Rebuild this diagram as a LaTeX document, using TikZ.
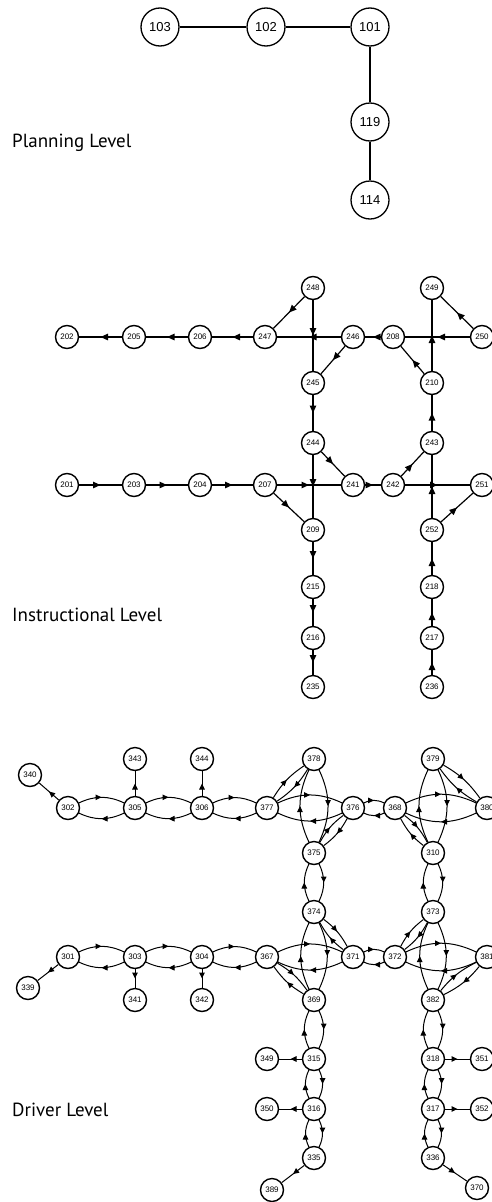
\documentclass[tikz,border=0pt]{standalone}
\usepackage{fontspec}
\setmainfont{Liberation Sans}
\newfontfamily\lvlfont{PT Sans}
\usetikzlibrary{arrows.meta,decorations.markings}
\newcommand\bidir[3]{\draw[darr] (#1) to[bend left=#3] (#2); \draw[darr] (#2) to[bend left=#3] (#1);}
\begin{document}
\begin{tikzpicture}[x=1pt,y=-1pt,
 pnode/.style={circle,draw,line width=1.3pt,minimum size=38pt,inner sep=0pt,font=\fontsize{13}{13}\selectfont},
 snode/.style={circle,draw,line width=1.4pt,minimum size=23pt,inner sep=0pt,font=\fontsize{8}{8}\selectfont,fill=white},
 pline/.style={line width=1.2pt},
 iarr/.style={line width=1.2pt,postaction={decorate},decoration={markings,mark=at position 0.5 with {\arrow{Triangle[length=7.5pt,width=6.5pt]}}}},
 darr/.style={line width=1pt,postaction={decorate},decoration={markings,mark=at position 0.5 with {\arrow{Triangle[length=6pt,width=5.5pt]}}}},
 lvl/.style={font=\lvlfont\fontsize{19}{19}\selectfont,anchor=west,inner sep=0pt}
]
\useasboundingbox (0,0) rectangle (492,1202);
% ---------------- Planning level
\node[pnode] (p103) at (160,27) {103};
\node[pnode] (p102) at (266,27) {102};
\node[pnode] (p101) at (370,27) {101};
\node[pnode] (p119) at (370,122) {119};
\node[pnode] (p114) at (370,200) {114};
\draw[pline] (p103) -- (p102);
\draw[pline] (p102) -- (p101);
\draw[pline] (p101) -- (p119);
\draw[pline] (p119) -- (p114);
\node[lvl] (lp) at (12,143) {Planning Level};
% ---------------- Instructional level
\foreach \n/\x/\y in {202/67/337,205/134/337,206/200/337,247/265/337,246/353/337,208/393/337,250/482/337,
  248/313/288,249/432/288,245/313/383,210/432/383,244/313/443,243/432/443,
  201/67/485,203/134/485,204/200/485,207/265/485,241/353/485,242/393/485,251/482/485,
  209/313/530,252/432/530,215/313/587,218/432/587,216/313/638,217/432/638,235/313/687,236/432/687}
  {\node[snode] (i\n) at (\x,\y) {\n};}
\foreach \a/\b in {247/206,206/205,205/202,201/203,203/204,204/207,
  246/247,248/245,248/247,246/245,245/244,244/241,207/241,207/209,244/209,209/215,215/216,216/235,
  208/246,241/242,250/208,210/249,250/249,210/208,243/210,242/243,242/251,252/243,252/251,218/252,217/218,236/217}
  {\draw[iarr] (i\a) -- (i\b);}
\node[lvl] (li) at (12,615) {Instructional Level};
% ---------------- Driver level
\foreach \n/\x/\y in {340/30/775,302/68/808,305/135/808,306/202/808,343/135/759,344/202/759,
  377/267/808,378/314/759,376/353/808,375/314/853,368/395/808,379/433/759,380/487/808,310/433/853,
  374/314/912,373/433/912,
  301/68/957,303/135/957,304/202/957,339/28/988,341/135/1000,342/202/1000,
  367/267/957,371/353/957,372/395/957,381/487/957,369/314/1000,382/433/1000,
  315/314/1059,349/267/1059,316/314/1109,350/267/1109,335/314/1158,389/272/1190,
  318/433/1059,351/482/1059,317/433/1109,352/482/1109,336/433/1158,370/477/1188}
  {\node[snode] (d\n) at (\x,\y) {\n};}
\foreach \a/\b in {302/340,305/343,306/344,301/339,303/341,304/342,315/349,316/350,335/389,318/351,317/352,336/370}
  {\draw[darr] (d\a) -- (d\b);}
\foreach \a/\b in {302/305,305/306,306/377,301/303,303/304,304/367,
  377/376,378/375,376/368,368/380,379/310,375/374,310/373,
  367/371,374/369,371/372,372/381,373/382,
  369/315,315/316,316/335,382/318,318/317,317/336}
  {\bidir{d\a}{d\b}{25}}
\foreach \a/\b in {377/378,376/375,380/379,368/310,374/371,367/369,372/373,382/381}
  {\bidir{d\a}{d\b}{12}}
\node[lvl] (ld) at (12,1110) {Driver Level};
\end{tikzpicture}
\end{document}
